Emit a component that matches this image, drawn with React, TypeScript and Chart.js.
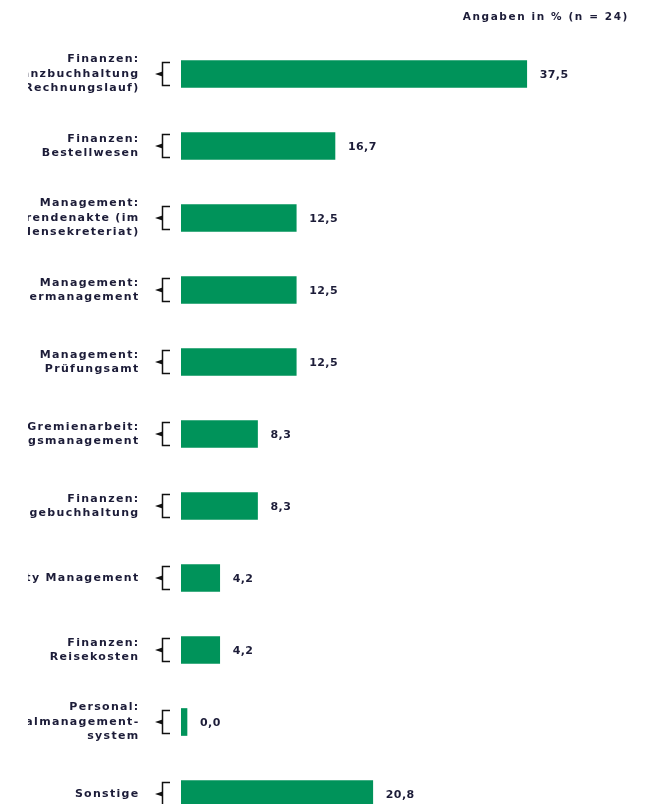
import React, { useEffect, useRef } from "react";
import { Chart, registerables } from "chart.js";

Chart.register(...registerables);

const categories: string[][] = [
  ["Finanzen:", "Finanzbuchhaltung", "(Rechnungslauf)"],
  ["Finanzen:", "Bestellwesen"],
  ["Management:", "Studierendenakte (im", "Studierendensekreteriat)"],
  ["Management:", "Bewerbermanagement"],
  ["Management:", "Prüfungsamt"],
  ["Gremienarbeit:", "Sitzungsmanagement"],
  ["Finanzen:", "Anlagebuchhaltung"],
  ["Identity Management"],
  ["Finanzen:", "Reisekosten"],
  ["Personal:", "Personalmanagement-", "system"],
  ["Sonstige"],
];

const values: number[] = [37.5, 16.7, 12.5, 12.5, 12.5, 8.3, 8.3, 4.2, 4.2, 0.0, 20.8];

const headerText = "Angaben in % (n = 24)";

const BAR_COLOR = "#00935a";
const TEXT_COLOR = "#1c1c38";
const FONT_FAMILY = "'DejaVu Sans', sans-serif";

const fmt = (v: number) => v.toFixed(1).replace(".", ",");

const decorPlugin = {
  id: "decor",
  afterDatasetsDraw(chart: any) {
    const ctx: CanvasRenderingContext2D = chart.ctx;
    const meta = chart.getDatasetMeta(0);
    ctx.save();
    // header
    ctx.fillStyle = TEXT_COLOR;
    ctx.font = `bold 10.5px ${FONT_FAMILY}`;
    (ctx as any).letterSpacing = "1.6px";
    ctx.textAlign = "right";
    ctx.textBaseline = "middle";
    ctx.fillText(headerText, 621, 9);

    meta.data.forEach((el: any, i: number) => {
      const y = el.y;
      const base = el.base;
      // brace
      ctx.strokeStyle = "#111";
      ctx.fillStyle = "#111";
      ctx.lineWidth = 1.5;
      const lx = base - 18.5;
      ctx.beginPath();
      ctx.moveTo(base - 11, y - 11.5);
      ctx.lineTo(lx, y - 11.5);
      ctx.lineTo(lx, y + 11.5);
      ctx.lineTo(base - 11, y + 11.5);
      ctx.stroke();
      ctx.beginPath();
      ctx.moveTo(lx, y - 2.5);
      ctx.lineTo(base - 26, y);
      ctx.lineTo(lx, y + 2.5);
      ctx.closePath();
      ctx.fill();

      // value label
      ctx.fillStyle = TEXT_COLOR;
      ctx.font = `bold 11px ${FONT_FAMILY}`;
      (ctx as any).letterSpacing = "0.4px";
      ctx.textAlign = "left";
      ctx.textBaseline = "middle";
      ctx.fillText(fmt(values[i]), el.x + 13, y + 1);

      // category label (clipped at left)
      ctx.save();
      ctx.beginPath();
      ctx.rect(20, 0, 200, chart.height);
      ctx.clip();
      const lines = categories[i];
      const lh = 14.5;
      const start = y - ((lines.length - 1) * lh) / 2;
      ctx.font = `bold 11px ${FONT_FAMILY}`;
      (ctx as any).letterSpacing = "1.3px";
      ctx.textAlign = "right";
      lines.forEach((ln, k) => {
        ctx.fillText(ln, 131.5, start + k * lh);
      });
      ctx.restore();
    });
    ctx.restore();
  },
};

export default function App() {
  const ref = useRef<HTMLCanvasElement | null>(null);
  useEffect(() => {
    if (!ref.current) return;
    const chart = new Chart(ref.current, {
      type: "bar",
      data: {
        labels: categories,
        datasets: [
          {
            data: values,
            backgroundColor: BAR_COLOR,
            borderWidth: 0,
            barThickness: 27,
            minBarLength: 6,
          },
        ],
      },
      options: {
        indexAxis: "y",
        animation: false,
        responsive: false,
        maintainAspectRatio: false,
        layout: { padding: { left: 173, right: 1, top: 30, bottom: 8 } },
        plugins: { legend: { display: false }, tooltip: { enabled: false } },
        scales: {
          x: { display: false, min: 0, max: 50 },
          y: { display: false, grid: { display: false } },
        },
      },
      plugins: [decorPlugin],
    });
    return () => chart.destroy();
  }, []);
  return (
    <div style={{ width: 635, height: 800, overflow: "hidden" }}>
      <canvas ref={ref} width={635} height={830} style={{ display: "block" }} />
    </div>
  );
}
